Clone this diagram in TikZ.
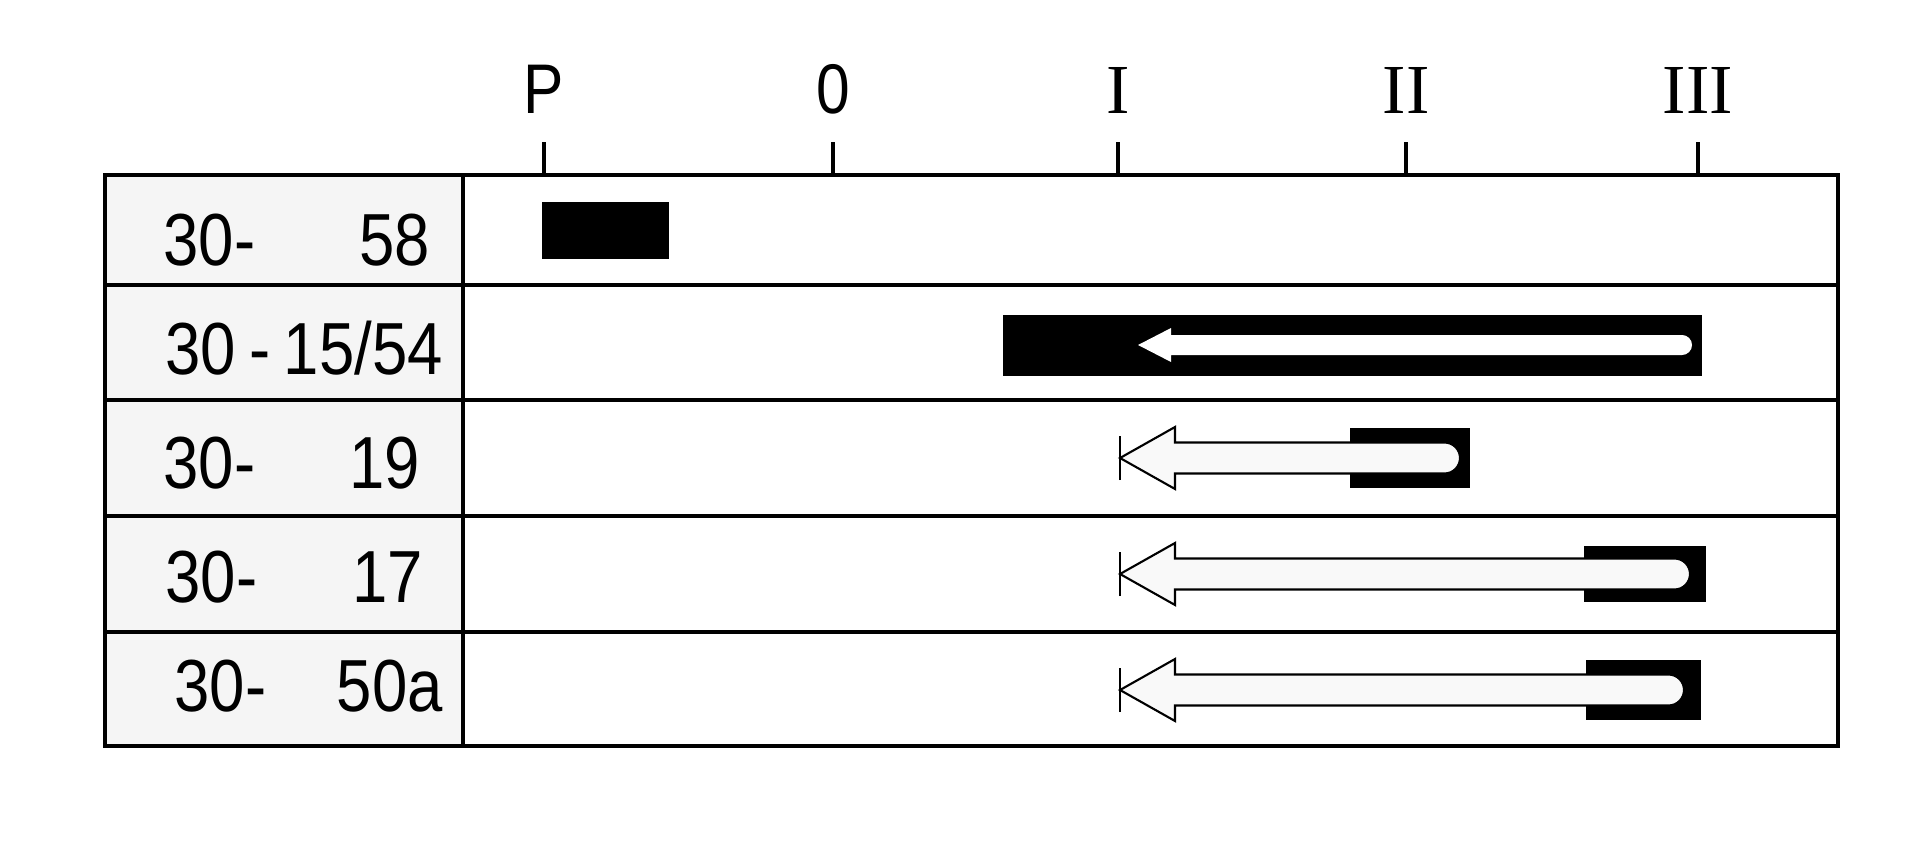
\documentclass[tikz,border=0pt]{standalone}
\usepackage{fontspec}
\setmainfont{Liberation Sans}[FakeStretch=0.86]
\newfontfamily\romfont{Liberation Serif}
\usepackage{tikz}

\begin{document}
\begin{tikzpicture}[
        frame/.style={line width=1pt},
        tick/.style={line width=1.1pt},
        scalelab/.style={anchor=base, inner sep=0pt, font=\fontsize{20}{24}\selectfont},
        rowlab/.style={anchor=base west, inner sep=0pt, text width=2.8cm, font=\fontsize{21}{24}\selectfont},
        blk/.style={fill=black},
        shaft/.style={draw=black, fill=gray!5, line width=0.6pt},
        stop/.style={line width=0.8pt}]
            \useasboundingbox (0,0) rectangle (19.2,8.51);
            % table
            \fill[gray!8] (1.05,1.05) rectangle (4.63,6.76);
            \draw[frame] (1.05,1.05) rectangle (18.38,6.76);
            \draw[frame] (4.63,1.05) -- (4.63,6.76);
            \draw[frame] (1.05,5.66) -- (18.38,5.66);
            \draw[frame] (1.05,4.51) -- (18.38,4.51);
            \draw[frame] (1.05,3.35) -- (18.38,3.35);
            \draw[frame] (1.05,2.19) -- (18.38,2.19);
            % scale
            \node[scalelab] (tP) at (5.44,7.37) {P};
            \node[scalelab] (t0) at (8.33,7.37) {0};
            \node[scalelab] (tI) at (11.18,7.37) {\romfont I};
            \node[scalelab] (tII) at (14.06,7.37) {\romfont II};
            \node[scalelab] (tIII) at (16.98,7.37) {\romfont III};
            \draw[tick] (5.44,6.76) -- (5.44,7.09);
            \draw[tick] (8.33,6.76) -- (8.33,7.09);
            \draw[tick] (11.18,6.76) -- (11.18,7.09);
            \draw[tick] (14.06,6.76) -- (14.06,7.09);
            \draw[tick] (16.98,6.76) -- (16.98,7.09);
            % row labels
            \node[rowlab, text width=2.66cm] (lab58) at (1.63,5.85) {30-\hfill 58};
            \node[rowlab, text width=2.77cm] (lab1554) at (1.65,4.77) {30\hfill-\hfill 15/54};
            \node[rowlab, text width=2.56cm] (lab19) at (1.63,3.63) {30-\hfill 19};
            \node[rowlab, text width=2.57cm] (lab17) at (1.65,2.49) {30-\hfill 17};
            \node[rowlab, text width=2.68cm] (lab50a) at (1.74,1.40) {30-\hfill 50a};
            % 30-58
            \fill[blk] (5.42,5.92) rectangle (6.69,6.49);
            % 30-15/54
            \fill[blk] (10.03,4.75) rectangle (17.02,5.36);
            \fill[white] (11.38,5.06) -- (11.71,5.23) -- (11.71,5.16) -- (16.82,5.16)
                arc[start angle=90, end angle=-90, radius=0.1] -- (11.71,4.96) -- (11.71,4.89) -- cycle;
            % 30-19
            \fill[blk] (13.50,3.63) rectangle (14.70,4.23);
            \draw[shaft] (11.20,3.93) -- (11.75,4.24) -- (11.75,4.085) -- (14.445,4.085)
                arc[start angle=90, end angle=-90, radius=0.155] -- (11.75,3.775) -- (11.75,3.62) -- cycle;
            \draw[stop] (11.20,3.71) -- (11.20,4.15);
            % 30-17
            \fill[blk] (15.84,2.49) rectangle (17.06,3.05);
            \draw[shaft] (11.20,2.77) -- (11.75,3.08) -- (11.75,2.925) -- (16.745,2.925)
                arc[start angle=90, end angle=-90, radius=0.155] -- (11.75,2.615) -- (11.75,2.46) -- cycle;
            \draw[stop] (11.20,2.55) -- (11.20,2.99);
            % 30-50a
            \fill[blk] (15.86,1.31) rectangle (17.01,1.91);
            \draw[shaft] (11.20,1.61) -- (11.75,1.92) -- (11.75,1.765) -- (16.685,1.765)
                arc[start angle=90, end angle=-90, radius=0.155] -- (11.75,1.455) -- (11.75,1.30) -- cycle;
            \draw[stop] (11.20,1.39) -- (11.20,1.83);
        \end{tikzpicture}
\end{document}
